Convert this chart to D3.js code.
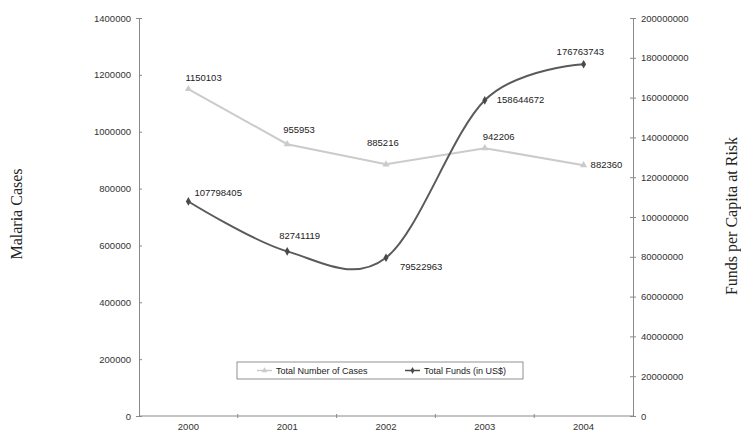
<html>
<meta charset="utf-8">
<head>
  <script src="https://d3js.org/d3.v7.min.js"></script>
</head>
<body style="margin:0; background-color:#FFFFFF">
<div id="chart"></div>
<script>

var years = ["2000", "2001", "2002", "2003", "2004"];
var cases = [1150103, 955953, 885216, 942206, 882360];
var funds = [107798405, 82741119, 79522963, 158644672, 176763743];
var leftTicks = [0, 200000, 400000, 600000, 800000, 1000000, 1200000, 1400000];
var rightTicks = [0, 20000000, 40000000, 60000000, 80000000, 100000000, 120000000, 140000000, 160000000, 180000000, 200000000];

var margin = {top: 18, right: 108, bottom: 16, left: 139},
    width = 741 - margin.left - margin.right,
    height = 432 - margin.top - margin.bottom;

var svg = d3.select("#chart")
  .append("svg")
    .attr("width", 741)
    .attr("height", 432)
  .append("g")
    .attr("transform", "translate(" + margin.left + "," + margin.top + ")");

var x = d3.scaleBand().range([0, width]).domain(years);
var yL = d3.scaleLinear().domain([0, 1400000]).range([height, 0]);
var yR = d3.scaleLinear().domain([0, 200000000]).range([height, 0]);

var sans = "Liberation Sans, Arial";

function styleAxis(g) {
  g.selectAll("path, line").attr("stroke", "#8a8a8a");
  g.selectAll("text").style("font-family", sans).style("font-size", "9.5px").attr("fill", "#333");
}

// left axis
svg.append("g")
  .call(d3.axisLeft(yL).tickValues(leftTicks).tickSize(3).tickPadding(5).tickFormat(d3.format("d")))
  .call(styleAxis)
  .selectAll(".tick line").attr("x2", 3);

// right axis
svg.append("g")
  .attr("transform", "translate(" + width + ",0)")
  .call(d3.axisRight(yR).tickValues(rightTicks).tickSize(3).tickPadding(5).tickFormat(d3.format("d")))
  .call(styleAxis)
  .selectAll(".tick line").attr("x1", -3);

// bottom axis, ticks on the band edges
var bottom = svg.append("g").attr("transform", "translate(0," + height + ")");
bottom.append("line").attr("x1", 0).attr("x2", width).attr("stroke", "#8a8a8a");
bottom.selectAll("tk").data(years.slice(1)).enter().append("line")
  .attr("x1", function(d) { return x(d); })
  .attr("x2", function(d) { return x(d); })
  .attr("y1", -2).attr("y2", 2)
  .attr("stroke", "#8a8a8a");
bottom.selectAll("lb").data(years).enter().append("text")
  .attr("x", function(d) { return x(d) + x.bandwidth() / 2; })
  .attr("y", 14)
  .attr("text-anchor", "middle")
  .style("font-family", sans).style("font-size", "9.5px")
  .attr("fill", "#333")
  .text(function(d) { return d; });

function cx(i) { return x(years[i]) + x.bandwidth() / 2; }

// cases line
var lineCases = d3.line()
  .x(function(d, i) { return cx(i); })
  .y(function(d) { return yL(d); });
svg.append("path")
  .datum(cases)
  .attr("d", lineCases)
  .attr("fill", "none")
  .attr("stroke", "#cbcbcb")
  .attr("stroke-width", 2);

svg.selectAll("tri").data(cases).enter().append("path")
  .attr("d", d3.symbol().type(d3.symbolTriangle).size(22))
  .attr("transform", function(d, i) { return "translate(" + cx(i) + "," + yL(d) + ")"; })
  .attr("fill", "#cbcbcb");

// funds line (smoothed)
var lineFunds = d3.line()
  .x(function(d, i) { return cx(i); })
  .y(function(d) { return yR(d); })
  .curve(d3.curveCardinal.tension(0));
svg.append("path")
  .datum(funds)
  .attr("d", lineFunds)
  .attr("fill", "none")
  .attr("stroke", "#5a5a5a")
  .attr("stroke-width", 2);

svg.selectAll("dia").data(funds).enter().append("path")
  .attr("d", d3.symbol().type(d3.symbolDiamond).size(22))
  .attr("transform", function(d, i) { return "translate(" + cx(i) + "," + yR(d) + ")"; })
  .attr("fill", "#4a4a4a");

// data labels
var caseOff = [[-3, -8], [-4, -11], [-19, -18], [-2, -8], [7, 3]];
var fundOff = [[6, -5], [-8, -12], [14, 12], [12, 3], [-27, -9]];

svg.selectAll("cl").data(cases).enter().append("text")
  .attr("x", function(d, i) { return cx(i) + caseOff[i][0]; })
  .attr("y", function(d, i) { return yL(d) + caseOff[i][1]; })
  .style("font-family", sans).style("font-size", "9.5px")
  .attr("fill", "#222")
  .text(function(d) { return d; });

svg.selectAll("fl").data(funds).enter().append("text")
  .attr("x", function(d, i) { return cx(i) + fundOff[i][0]; })
  .attr("y", function(d, i) { return yR(d) + fundOff[i][1]; })
  .style("font-family", sans).style("font-size", "9.5px")
  .attr("fill", "#222")
  .text(function(d) { return d; });

// legend
var lg = svg.append("g").attr("transform", "translate(" + (237 - margin.left) + "," + (362 - margin.top) + ")");
lg.append("rect").attr("width", 286).attr("height", 17)
  .attr("fill", "white").attr("stroke", "#777").attr("stroke-width", 0.8);
lg.append("line").attr("x1", 20).attr("x2", 35).attr("y1", 8.5).attr("y2", 8.5)
  .attr("stroke", "#cbcbcb").attr("stroke-width", 1.5);
lg.append("path").attr("d", d3.symbol().type(d3.symbolTriangle).size(14))
  .attr("transform", "translate(27.5,8.5)").attr("fill", "#cbcbcb");
lg.append("text").attr("x", 39).attr("y", 12)
  .style("font-family", sans).style("font-size", "9px").attr("fill", "#222")
  .text("Total Number of Cases");
lg.append("line").attr("x1", 168).attr("x2", 183).attr("y1", 8.5).attr("y2", 8.5)
  .attr("stroke", "#4a4a4a").attr("stroke-width", 1.5);
lg.append("path").attr("d", d3.symbol().type(d3.symbolDiamond).size(14))
  .attr("transform", "translate(175.5,8.5)").attr("fill", "#4a4a4a");
lg.append("text").attr("x", 187).attr("y", 12)
  .style("font-family", sans).style("font-size", "9px").attr("fill", "#222")
  .text("Total Funds (in US$)");

// axis titles
d3.select("svg").append("text")
  .attr("transform", "translate(22,214) rotate(-90)")
  .attr("text-anchor", "middle")
  .style("font-family", "Liberation Serif, Times New Roman").style("font-size", "16px")
  .attr("fill", "#222")
  .text("Malaria Cases");
d3.select("svg").append("text")
  .attr("transform", "translate(737,216) rotate(-90)")
  .attr("text-anchor", "middle")
  .style("font-family", "Liberation Serif, Times New Roman").style("font-size", "16px")
  .attr("fill", "#222")
  .text("Funds per Capita at Risk");

</script>
</body>
</html>
